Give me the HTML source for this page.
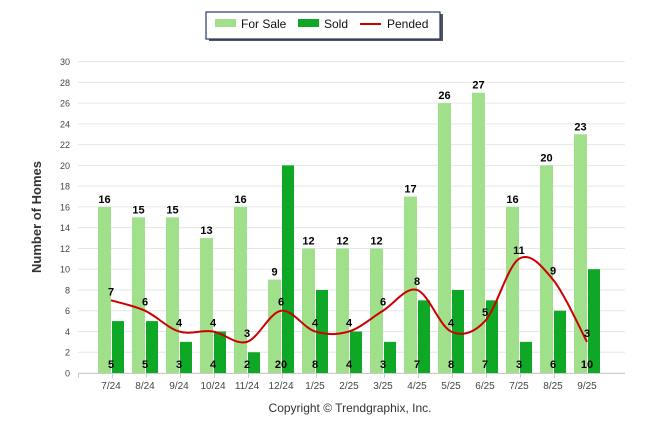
<!DOCTYPE html>
<html><head><meta charset="utf-8"><style>
body{margin:0;background:#fff;font-family:"Liberation Sans",Arial,sans-serif}
svg text{font-family:"Liberation Sans",Arial,sans-serif}
</style></head><body>
<svg id="c" width="646" height="434" viewBox="0 0 646 434">
<g>
<rect x="207" y="12" width="234" height="27" fill="#555" transform="translate(2,2)"/>
<rect x="206" y="12" width="234" height="27" fill="#fff" stroke="#1f3864" stroke-width="1.2"/>
<rect x="215" y="19" width="21" height="8" fill="#a1e08b"/>
<text x="241" y="28" font-size="12" fill="#111">For Sale</text>
<rect x="298" y="19" width="21" height="8" fill="#0fa826"/>
<text x="324" y="28" font-size="12" fill="#111">Sold</text>
<line x1="360" y1="24" x2="381" y2="24" stroke="#c00" stroke-width="2"/>
<text x="387" y="28" font-size="12" fill="#111">Pended</text>
</g>
<text transform="translate(41,217) rotate(-90)" text-anchor="middle" font-size="13" font-weight="bold" fill="#333">Number of Homes</text>
<text x="350" y="412" text-anchor="middle" font-size="12" fill="#333">Copyright © Trendgraphix, Inc.</text>
<g id="grid"></g><g id="bars"></g><g id="line"></g><g id="labels"></g>
</svg>
<script>
const categories=["7/24","8/24","9/24","10/24","11/24","12/24","1/25","2/25","3/25","4/25","5/25","6/25","7/25","8/25","9/25"];
const forSale=[16,15,15,13,16,9,12,12,12,17,26,27,16,20,23];
const sold=[5,5,3,4,2,20,8,4,3,7,8,7,3,6,10];
const pended=[7,6,4,4,3,6,4,4,6,8,4,5,11,9,3];
const yTicks=[0,2,4,6,8,10,12,14,16,18,20,22,24,26,28,30];
const NS="http://www.w3.org/2000/svg";
const y0=373,yu=10.38,left=78,right=625;
const Y=v=>y0-v*yu, X=i=>111+34*i;
function mk(p,t,a){const e=document.createElementNS(NS,t);for(const k in a)e.setAttribute(k,a[k]);p.appendChild(e);return e;}
const g=document.getElementById('grid'),b=document.getElementById('bars'),l=document.getElementById('line'),lb=document.getElementById('labels');
yTicks.forEach(v=>{
 const ln=mk(g,'line',{x1:left,x2:right,y1:Y(v),y2:Y(v),stroke:'#e6e6e6'});
 
 
 const t=mk(g,'text',{x:70,y:Y(v)+3.5,'text-anchor':'end','font-size':9,fill:'#444'});t.textContent=v;
 
 
});
mk(g,'line',{x1:left,x2:right,y1:y0+0.5,y2:y0+0.5,stroke:'#ccc'});
categories.forEach((c,i)=>{
 mk(g,'line',{x1:left+34*i+0.5,x2:left+34*i+0.5,y1:y0,y2:y0+5,stroke:'#ccc'});
 const t=mk(g,'text',{x:X(i),y:389,'text-anchor':'middle','font-size':10,fill:'#444'});t.textContent=c;
 
 
 const r1=mk(b,'rect',{x:X(i)-13,y:Y(forSale[i]),width:13,height:forSale[i]*yu,fill:'#a1e08b'});
 
 
 const r2=mk(b,'rect',{x:X(i)+1,y:Y(sold[i]),width:12,height:sold[i]*yu,fill:'#0fa826'});
 
 
 const t1=mk(lb,'text',{x:X(i)-6.5,y:Y(forSale[i])-4,'text-anchor':'middle','font-size':11,'font-weight':'bold',fill:'#000'});t1.textContent=forSale[i];
 
 
 const t2=mk(lb,'text',{x:X(i),y:368,'text-anchor':'middle','font-size':11,'font-weight':'bold',fill:'#000'});t2.textContent=sold[i];
 
 
 const t3=mk(lb,'text',{x:X(i),y:Y(pended[i])-5,'text-anchor':'middle','font-size':11,'font-weight':'bold',fill:'#000'});t3.textContent=pended[i];
 
 
});
const P=pended.map((v,i)=>[X(i),Y(v)]);
let d=`M${P[0][0]},${P[0][1]}`;
for(let i=0;i<P.length-1;i++){
 const p0=P[Math.max(0,i-1)],p1=P[i],p2=P[i+1],p3=P[Math.min(P.length-1,i+2)];
 d+=` C${p1[0]+(p2[0]-p0[0])/6},${p1[1]+(p2[1]-p0[1])/6} ${p2[0]-(p3[0]-p1[0])/6},${p2[1]-(p3[1]-p1[1])/6} ${p2[0]},${p2[1]}`;
}
const path=mk(l,'path',{d:d,fill:'none',stroke:'#c00',"stroke-width":2});


</script>
</body></html>
